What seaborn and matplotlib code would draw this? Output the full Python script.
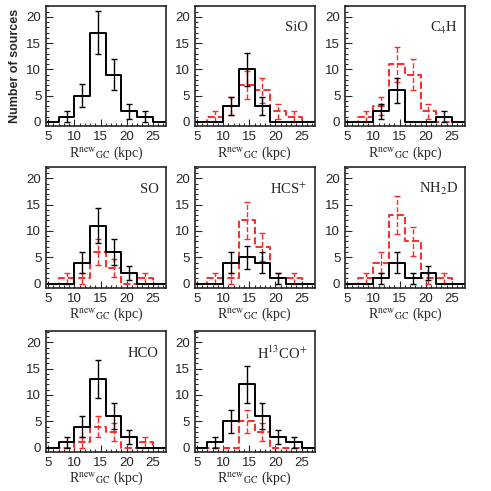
import numpy as np
import matplotlib
matplotlib.use("Agg")
import matplotlib.pyplot as plt
from matplotlib.ticker import MultipleLocator
import seaborn as sns

# bins of 3 kpc, from 4 to 28 kpc
bin_edges = [4, 7, 10, 13, 16, 19, 22, 25, 28]
bin_centers = [5.5, 8.5, 11.5, 14.5, 17.5, 20.5, 23.5, 26.5]

panel_names = ["", "SiO", "C$_4$H", "SO", "HCS$^{+}$", "NH$_2$D", "HCO", "H$^{13}$CO$^{+}$"]

# detections (black, solid)
black_all = [0, 1, 5, 17, 9, 2, 1, 0]
black_sio = [0, 0, 3, 10, 3, 0, 0, 0]
black_c4h = [0, 0, 2, 6, 0, 0, 1, 0]
black_so = [0, 0, 4, 11, 6, 2, 0, 0]
black_hcs = [0, 0, 4, 5, 4, 1, 0, 0]
black_nh2d = [0, 0, 1, 4, 1, 2, 0, 0]
black_hco = [0, 1, 4, 13, 6, 2, 0, 0]
black_h13co = [0, 1, 5, 12, 6, 2, 1, 0]

# non-detections (red, dashed)
red_sio = [0, 1, 3, 7, 6, 2, 1, 0]
red_c4h = [0, 1, 3, 11, 9, 2, 0, 0]
red_so = [0, 1, 1, 6, 3, 0, 1, 0]
red_hcs = [0, 1, 1, 12, 7, 1, 1, 0]
red_nh2d = [0, 1, 4, 13, 8, 1, 1, 0]
red_hco = [0, 0, 1, 4, 3, 0, 1, 0]
red_h13co = [0, 0, 0, 5, 3, 0, 0, 0]

black_sets = [black_all, black_sio, black_c4h, black_so, black_hcs,
              black_nh2d, black_hco, black_h13co]
red_sets = [None, red_sio, red_c4h, red_so, red_hcs, red_nh2d, red_hco, red_h13co]

sns.set_style("ticks")
plt.rcParams['font.family'] = ['Liberation Sans', 'DejaVu Sans']
plt.rcParams['mathtext.fontset'] = 'stix'

RED = '#ff2a2a'

fig = plt.figure(figsize=(4.91, 4.91), dpi=100)

lefts = [0.094, 0.397, 0.703]
bottoms = [0.743, 0.414, 0.080]
w, h = 0.244, 0.245


def draw_hist(ax, counts, color, ls):
    sns.histplot(x=bin_centers, weights=counts, bins=bin_edges, element='step',
                 fill=False, color=color, linestyle=ls, linewidth=1.4, ax=ax)
    cx = [c for c, n in zip(bin_centers, counts) if n > 0]
    cy = [n for n in counts if n > 0]
    err = np.sqrt(cy)
    eb = ax.errorbar(cx, cy, yerr=err, fmt='none', ecolor=color, elinewidth=1.0,
                     capsize=2, capthick=1.0)
    if ls != '-':
        eb[2][0].set_linestyle('--')


for i, (name, blk, red) in enumerate(zip(panel_names, black_sets, red_sets)):
    row, col = divmod(i, 3)
    ax = fig.add_axes([lefts[col], bottoms[row], w, h])
    if red is not None:
        draw_hist(ax, red, RED, '--')
    draw_hist(ax, blk, 'black', '-')

    ax.set_xlim(4.6, 27.5)
    ax.set_ylim(-0.8, 22.1)
    ax.xaxis.set_major_locator(MultipleLocator(5))
    ax.xaxis.set_minor_locator(MultipleLocator(1))
    ax.yaxis.set_major_locator(MultipleLocator(5))
    ax.yaxis.set_minor_locator(MultipleLocator(1))
    ax.tick_params(which='both', direction='in', labelsize=9.5, width=0.8)
    ax.tick_params(which='major', length=5)
    ax.tick_params(which='minor', length=2.5)
    for sp in ax.spines.values():
        sp.set_linewidth(1.2)

    ax.set_xlabel(r'R$^{\mathrm{new}}{}_{\mathrm{GC}}$ (kpc)', fontsize=10,
                  family=['Liberation Serif', 'DejaVu Serif'], labelpad=1)
    if i == 0:
        ax.set_ylabel('Number of sources', fontsize=9, fontweight='bold',
                      family=['Liberation Sans', 'DejaVu Sans'], labelpad=4)
    else:
        ax.set_ylabel('')
        ax.text(0.94, 0.82, name, transform=ax.transAxes, ha='right', va='center',
                fontsize=10.5, family=['Liberation Serif', 'DejaVu Serif'])

fig.savefig('out.png', dpi=100)
